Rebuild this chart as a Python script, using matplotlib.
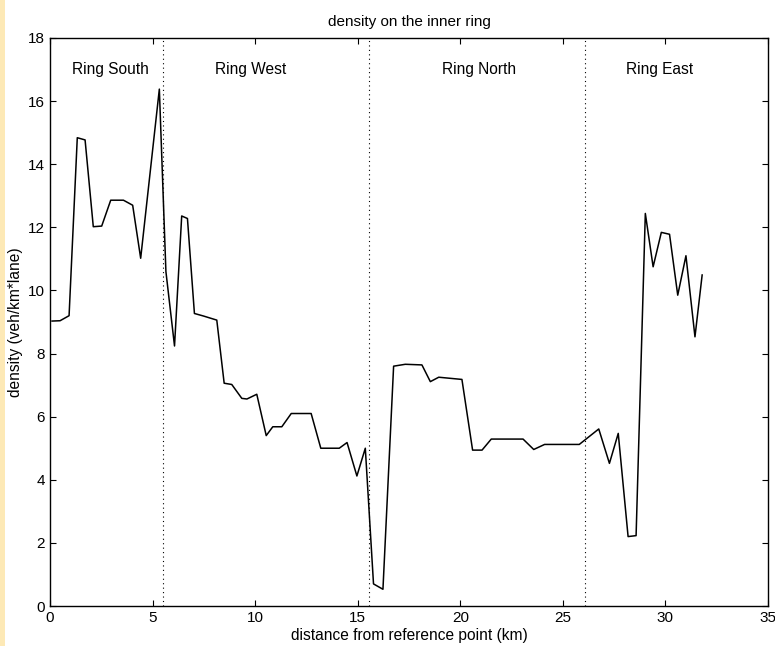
import matplotlib
matplotlib.use("Agg")
import matplotlib.pyplot as plt
from matplotlib.patches import Rectangle

plt.rcParams['font.family'] = ['Liberation Sans', 'DejaVu Sans']

distance_km = [0.1, 0.49, 0.93, 1.33, 1.71, 2.11, 2.52, 2.96, 3.58, 4.03, 4.42,
               5.33, 5.65, 6.07, 6.42, 6.7, 7.04, 7.48, 8.13, 8.49, 8.86, 9.35,
               9.6, 10.08, 10.54, 10.86, 11.3, 11.76, 12.73, 13.2, 14.1, 14.48,
               14.96, 15.37, 15.77, 16.23, 16.75, 17.32, 18.13, 18.54, 18.95,
               20.08, 20.6, 21.06, 21.51, 23.06, 23.58, 24.11, 25.8, 26.75,
               27.27, 27.7, 28.18, 28.57, 29.02, 29.4, 29.8, 30.2, 30.6, 31.0,
               31.44, 31.79]
density = [9.03, 9.04, 9.2, 14.84, 14.77, 12.02, 12.04, 12.86, 12.86, 12.7, 11.02,
           16.38, 10.6, 8.24, 12.36, 12.28, 9.27, 9.19, 9.06, 7.06, 7.02, 6.58,
           6.56, 6.71, 5.4, 5.68, 5.68, 6.1, 6.1, 5.0, 5.0, 5.18,
           4.12, 5.0, 0.7, 0.53, 7.6, 7.66, 7.64, 7.11, 7.25,
           7.18, 4.94, 4.94, 5.29, 5.29, 4.96, 5.12, 5.12, 5.61,
           4.52, 5.47, 2.2, 2.23, 12.44, 10.75, 11.84, 11.78, 9.85, 11.1,
           8.53, 10.49]

section_bounds = [5.52, 15.55, 26.08]
section_names = ["Ring South", "Ring West", "Ring North", "Ring East"]
section_label_x = [2.93, 9.76, 20.9, 29.7]

title = "density on the inner ring"
xlabel = "distance from reference point (km)"
ylabel = "density (veh/km*lane)"

fig = plt.figure(figsize=(7.75, 6.46), dpi=100)
fig.patches.append(Rectangle((0, 0), 5 / 775, 1, transform=fig.transFigure,
                             facecolor='#fde9b6', edgecolor='none'))
ax = fig.add_axes([50 / 775, 40 / 646, 718 / 775, 568 / 646])

ax.plot(distance_km, density, color='black', lw=1.1)
for b in section_bounds:
    ax.axvline(b, color='black', ls=(0, (1, 3)), lw=0.8)
for name, xpos in zip(section_names, section_label_x):
    ax.text(xpos, 17.0, name, ha='center', va='center', fontsize=11.2)

ax.set_xlim(0, 35)
ax.set_ylim(0, 18)
ax.set_xticks(range(0, 36, 5))
ax.set_yticks(range(0, 19, 2))
ax.tick_params(direction='in', top=True, right=True, labelsize=11, length=4)
for s in ax.spines.values():
    s.set_linewidth(1.0)

ax.set_title(title, fontsize=11, pad=8.5)
ax.set_xlabel(xlabel, fontsize=11.2, labelpad=2.5)
ax.set_ylabel(ylabel, fontsize=11.2, labelpad=3.5)

fig.savefig("out.png", dpi=100)
